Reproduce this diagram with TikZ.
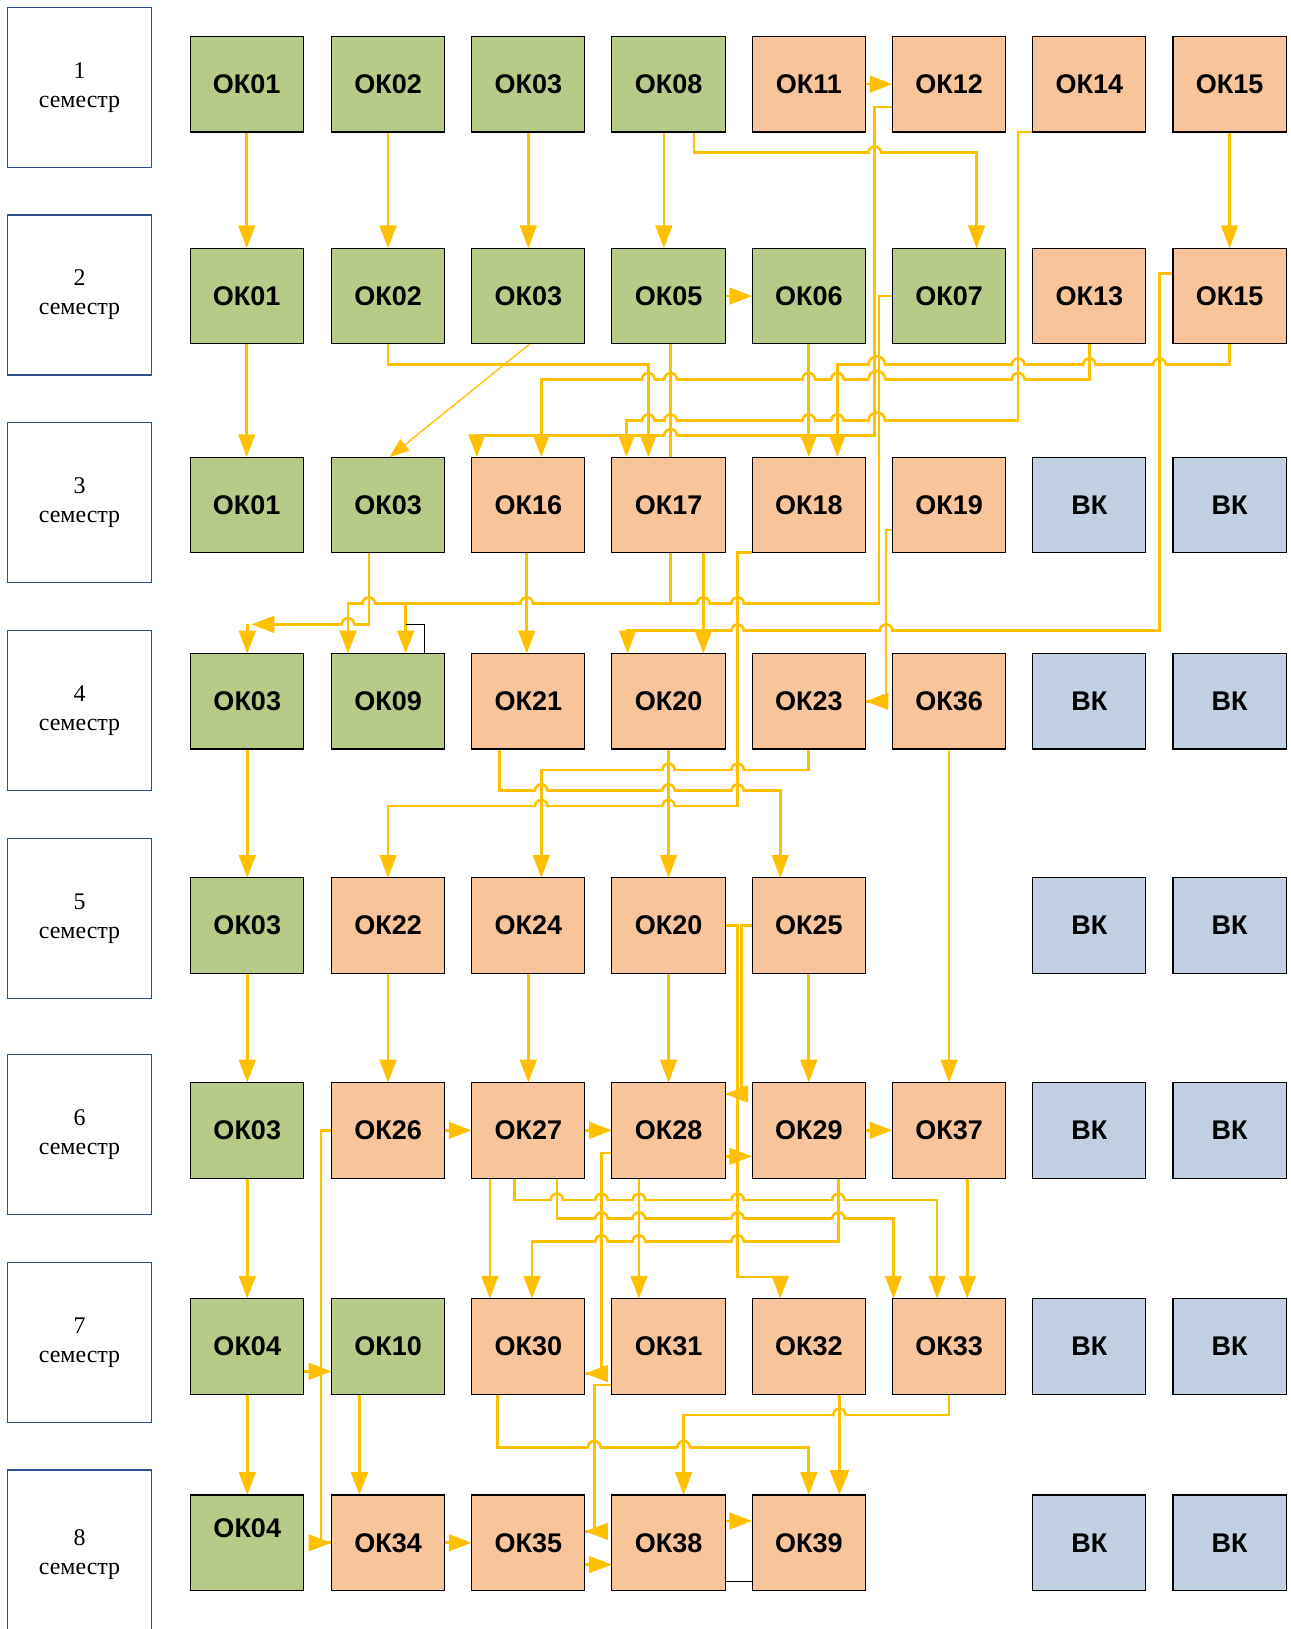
\documentclass[tikz,border=0pt]{standalone}
\usepackage{fontspec}
\setmainfont{Liberation Serif}
\newfontfamily\boxfont{Liberation Sans}
\usetikzlibrary{arrows.meta}
\pgfdeclarelayer{bg}
\pgfsetlayers{bg,main}
\definecolor{gfill}{RGB}{183,203,136}
\definecolor{ofill}{RGB}{248,197,155}
\definecolor{bfill}{RGB}{194,208,227}
\definecolor{conncol}{RGB}{255,192,0}
\definecolor{semcol}{RGB}{47,82,143}
\newcommand{\cfnt}{\boxfont\bfseries\fontsize{26}{30}\selectfont}
\tikzset{
 course/.style={draw=black, line width=1.1pt, minimum width=109pt, minimum height=92pt, inner sep=0pt, outer sep=0pt, font=\cfnt},
 gbox/.style={course, fill=gfill},
 obox/.style={course, fill=ofill},
 bbox/.style={course, fill=bfill},
 sem/.style={draw=semcol, line width=1.2pt, minimum width=139pt, minimum height=154pt, inner sep=0pt, align=center, font=\fontsize{23}{28}\selectfont},
 cline/.style={draw=conncol, line width=2.5pt},
 conn/.style={cline, -{Triangle[length=22pt,width=16pt]}},
 thinblk/.style={draw=black, line width=1pt},
}
\newcommand{\myhop}[3]{%
 \fill[white] ({#1-#3-0.8},{#2-2.2}) rectangle ({#1+#3+0.8},{#2+2.2});
 \draw[cline] ({#1-#3-1},#2) -- ({#1-#3},#2) arc[start angle=180,end angle=0,radius=#3pt] -- ({#1+#3+1},#2);}
\newcommand{\myvre}[2]{\draw[cline] (#1,{#2-9}) -- (#1,{#2+9});}
\newcommand{\hv}[2]{\myhop{#1}{#2}{6}\myvre{#1}{#2}}
\begin{document}
\begin{tikzpicture}[x=1pt,y=-1pt]
\useasboundingbox (0,0) rectangle (1242,1568);
% semesters
\node[sem] (s1) at (76.5,84) {1\\семестр};
\node[sem] (s2) at (76.5,284) {2\\семестр};
\node[sem] (s3) at (76.5,484) {3\\семестр};
\node[sem] (s4) at (76.5,684) {4\\семестр};
\node[sem] (s5) at (76.5,884) {5\\семестр};
\node[sem] (s6) at (76.5,1092) {6\\семестр};
\node[sem] (s7) at (76.5,1292) {7\\семестр};
\node[sem, minimum height=162pt] (s8) at (76.5,1496) {8\\семестр};
% row 1
\node[gbox] (n11) at (237.5,81) {ОК01};
\node[gbox] (n12) at (373.5,81) {ОК02};
\node[gbox] (n13) at (508.5,81) {ОК03};
\node[gbox] (n14) at (643.5,81) {ОК08};
\node[obox] (n15) at (778.5,81) {ОК11};
\node[obox] (n16) at (913.5,81) {ОК12};
\node[obox] (n17) at (1048.5,81) {ОК14};
\node[obox] (n18) at (1183.5,81) {ОК15};
% row 2
\node[gbox] (n21) at (237.5,285) {ОК01};
\node[gbox] (n22) at (373.5,285) {ОК02};
\node[gbox] (n23) at (508.5,285) {ОК03};
\node[gbox] (n24) at (643.5,285) {ОК05};
\node[gbox] (n25) at (778.5,285) {ОК06};
\node[gbox] (n26) at (913.5,285) {ОК07};
\node[obox] (n27) at (1048.5,285) {ОК13};
\node[obox] (n28) at (1183.5,285) {ОК15};
% row 3
\node[gbox] (n31) at (237.5,486) {ОК01};
\node[gbox] (n32) at (373.5,486) {ОК03};
\node[obox] (n33) at (508.5,486) {ОК16};
\node[obox] (n34) at (643.5,486) {ОК17};
\node[obox] (n35) at (778.5,486) {ОК18};
\node[obox] (n36) at (913.5,486) {ОК19};
\node[bbox] (n37) at (1048.5,486) {ВК};
\node[bbox] (n38) at (1183.5,486) {ВК};
% row 4
\node[gbox] (n41) at (238,675) {ОК03};
\node[gbox] (n42) at (373.5,675) {ОК09};
\node[obox] (n43) at (508.5,675) {ОК21};
\node[obox] (n44) at (643.5,675) {ОК20};
\node[obox] (n45) at (778.5,675) {ОК23};
\node[obox] (n46) at (913.5,675) {ОК36};
\node[bbox] (n47) at (1048.5,675) {ВК};
\node[bbox] (n48) at (1183.5,675) {ВК};
% row 5
\node[gbox] (n51) at (238,891) {ОК03};
\node[obox] (n52) at (373.5,891) {ОК22};
\node[obox] (n53) at (508.5,891) {ОК24};
\node[obox] (n54) at (643.5,891) {ОК20};
\node[obox] (n55) at (778.5,891) {ОК25};
\node[bbox] (n57) at (1048.5,891) {ВК};
\node[bbox] (n58) at (1183.5,891) {ВК};
% row 6
\node[gbox] (n61) at (238,1088) {ОК03};
\node[obox] (n62) at (373.5,1088) {ОК26};
\node[obox] (n63) at (508.5,1088) {ОК27};
\node[obox] (n64) at (643.5,1088) {ОК28};
\node[obox] (n65) at (778.5,1088) {ОК29};
\node[obox] (n66) at (913.5,1088) {ОК37};
\node[bbox] (n67) at (1048.5,1088) {ВК};
\node[bbox] (n68) at (1183.5,1088) {ВК};
% row 7
\node[gbox] (n71) at (238,1296) {ОК04};
\node[gbox] (n72) at (373.5,1296) {ОК10};
\node[obox] (n73) at (508.5,1296) {ОК30};
\node[obox] (n74) at (643.5,1296) {ОК31};
\node[obox] (n75) at (778.5,1296) {ОК32};
\node[obox] (n76) at (913.5,1296) {ОК33};
\node[bbox] (n77) at (1048.5,1296) {ВК};
\node[bbox] (n78) at (1183.5,1296) {ВК};
% row 8
\node[gbox, label={[font=\cfnt, yshift=14pt]center:ОК04}] (n81) at (238,1485) {};
\node[obox] (n82) at (373.5,1485) {ОК34};
\node[obox] (n83) at (508.5,1485) {ОК35};
\node[obox] (n84) at (643.5,1485) {ОК38};
\node[obox] (n85) at (778.5,1485) {ОК39};
\node[bbox] (n87) at (1048.5,1485) {ВК};
\node[bbox] (n88) at (1183.5,1485) {ВК};

\coordinate (b1) at (390.5,581);
\coordinate (b2) at (390.5,601);
\coordinate (j1) at (238,601);

\begin{pgfonlayer}{bg}
\fill[white] (0,0) rectangle (1242,1568);
% row 1 -> 2
\draw[conn] (n11.south) -- (n21.north);
\draw[conn] (n12.south) -- (n22.north);
\draw[conn] (n13.south) -- (n23.north);
\draw[conn] ([xshift=-4.5pt]n14.south) -- ([xshift=-4.5pt]n24.north);
\draw[conn] ([xshift=24.5pt]n14.south) |- (940,147) -- ([xshift=26.5pt]n26.north);
\draw[conn] (n15.east) -- (n16.west);
\draw[conn] ([yshift=-22pt]n16.west) -| (842,419) -| ([xshift=-49.5pt]n33.north);
\draw[conn] (n17.south west) -| (980,405) -| ([xshift=-40.5pt]n34.north);
\draw[conn] (n18.south) -- (n28.north);
% row 2 -> 3
\draw[conn] (n21.south) -- (n31.north);
\draw[conn] (n24.east) -- (n25.west);
\draw[conn] (n22.south) |- (624,351) -- ([xshift=-19.5pt]n34.north);
\draw[draw=conncol, line width=1.3pt, -{Triangle[length=19pt,width=14pt]}] ([xshift=1.5pt]n23.south) -- ([xshift=1.5pt]n32.north);
\draw[cline] ([xshift=2pt]n24.south) -- (645.5,581);
\draw[conn] (n27.south) |- (521,365) -- ([xshift=12.5pt]n33.north);
\draw[conn] (n28.south) |- (806,351) -- ([xshift=27.5pt]n35.north);
\draw[conn] (n25.south) -- (n35.north);
\draw[conn] (n26.west) -| (846,581) -| ([xshift=-38.5pt]n42.north);
\draw[conn] (b1) -- ([xshift=17pt]n42.north);
\draw[conn] ([yshift=22pt]n28.west) -| (1116,607) -| ([xshift=-39.5pt]n44.north);
% row 3 -> 4
\draw[conn] ([xshift=33.5pt]n34.south) -- ([xshift=33.5pt]n44.north);
\draw[conn] ([xshift=-1.5pt]n33.south) -- ([xshift=-1.5pt]n43.north);
\draw[conn] ([xshift=-18.5pt]n32.south) |- (242,601);
\draw[conn] (j1) -- (n41.north);
\draw[conn] (n35.south west) -| (710,776) -| (n52.north);
\draw[cline] ([yshift=-24pt]n36.west) -| (853,675) -- (n45.east);
\draw[conn] ([xshift=20pt]n45.east) -- (n45.east);
\draw[conn] (n46.south) -- (n66.north);
% row 4 -> 5
\draw[conn] (n41.south) -- (n51.north);
\draw[conn] (n44.south) -- (n54.north);
\draw[conn] ([xshift=-27.5pt]n43.south) |- (751,761) -- ([xshift=-27.5pt]n55.north);
\draw[conn] (n45.south) |- (521,741) -- ([xshift=12.5pt]n53.north);
% row 5 -> 6
\draw[conn] (n51.south) -- (n61.north);
\draw[conn] (n52.south) -- (n62.north);
\draw[conn] (n53.south) -- (n63.north);
\draw[conn] (n54.south) -- (n64.north);
\draw[conn] (n55.south) -- (n65.north);
\draw[conn] (n54.east) -| (710,1229) -| ([xshift=-27.5pt]n75.north);
\draw[cline] (n55.west) -| (714,1053) -- ([yshift=35pt]n64.east);
\draw[conn] ([shift={(22pt,35pt)}]n64.east) -- ([yshift=35pt]n64.east);
\draw[conn] ([yshift=-25pt]n64.east) -- ([yshift=-25pt]n65.west);
% row 6
\draw[conn] (n62.east) -- (n63.west);
\draw[conn] (n63.east) -- (n64.west);
\draw[conn] (n65.east) -- (n66.west);
\draw[cline] (n62.west) -| (309,1485) -- (n82.west);
\draw[conn] ([xshift=-22pt]n82.west) -- (n82.west);
% row 6 -> 7
\draw[conn] (n61.south) -- (n71.north);
\draw[conn] ([xshift=-37pt]n63.south) -- ([xshift=-37pt]n73.north);
\draw[conn] ([xshift=-13.5pt]n63.south) |- (902,1155) -- ([xshift=-11.5pt]n76.north);
\draw[conn] ([xshift=27.5pt]n63.south) |- (860,1173) -- ([xshift=-53.5pt]n76.north);
\draw[conn] ([xshift=28.5pt]n65.south) |- (512,1195) -- ([xshift=3.5pt]n73.north);
\draw[cline] ([yshift=-22pt]n64.west) -| (579,1322) -- ([yshift=-26pt]n73.east);
\draw[conn] ([shift={(22pt,-26pt)}]n73.east) -- ([yshift=-26pt]n73.east);
\draw[conn] ([xshift=-28.5pt]n64.south) -- ([xshift=-28.5pt]n74.north);
\draw[conn] ([xshift=17.5pt]n66.south) -- ([xshift=17.5pt]n76.north);
% row 7 -> 8
\draw[conn] ([yshift=-24pt]n71.east) -- ([yshift=-24pt]n72.west);
\draw[conn] (n71.south) -- (n81.north);
\draw[conn] ([xshift=-27.5pt]n72.south) -- ([xshift=-27.5pt]n82.north);
\draw[conn] ([xshift=-29.5pt]n73.south) |- (778.5,1393) -- (n85.north);
\draw[conn] (n76.south) |- (658,1362) -- ([xshift=14.5pt]n84.north);
\draw[draw=conncol, line width=3.6pt, -{Triangle[length=24pt,width=18pt]}] ([xshift=29.5pt]n75.south) -- ([xshift=29.5pt]n85.north);
\draw[cline] ([yshift=-37pt]n74.west) -| (572,1474) -- ([yshift=11pt]n83.east);
\draw[conn] ([shift={(22pt,11pt)}]n83.east) -- ([yshift=11pt]n83.east);
% row 8
\draw[conn] (n82.east) -- (n83.west);
\draw[conn] ([yshift=-21pt]n83.east) -- ([yshift=-21pt]n84.west);
\draw[conn] ([yshift=21pt]n84.east) -- ([yshift=21pt]n85.west);
% stray black lines
\draw[thinblk] (b2) -| ([xshift=35.5pt]n42.north);
\draw[thinblk] ([yshift=-37pt]n84.east) -- ([yshift=-37pt]n85.west);
% line jumps
\hv{842}{147}
\myhop{844}{351}{8}\myvre{842}{351}\myvre{846}{351}
\hv{980}{351}\hv{1048.5}{351}\hv{1116}{351}
\hv{624}{365}\hv{645.5}{365}\hv{778.5}{365}\hv{806}{365}\hv{980}{365}
\myhop{844}{365}{8}\myvre{842}{365}\myvre{846}{365}
\hv{624}{405}\hv{645.5}{405}\hv{778.5}{405}\hv{806}{405}
\myhop{844}{405}{8}\myvre{842}{405}\myvre{846}{405}
\hv{645.5}{419}
\hv{710}{581}\hv{677}{581}\hv{507}{581}\hv{355}{581}
\hv{335}{601}
\hv{853}{607}\hv{710}{607}
\hv{710}{741}\hv{643.5}{741}
\hv{521}{761}\hv{643.5}{761}\hv{710}{761}
\hv{643.5}{776}\hv{521}{776}
\hv{536}{1155}\hv{579}{1155}\hv{615}{1155}\hv{710}{1155}\hv{807}{1155}
\hv{579}{1173}\hv{615}{1173}\hv{710}{1173}\hv{807}{1173}
\hv{579}{1195}\hv{615}{1195}\hv{710}{1195}
\myhop{808}{1362}{6}\draw[draw=conncol, line width=3.6pt] (808,1353) -- (808,1371);
\hv{572}{1393}\hv{658}{1393}
\end{pgfonlayer}
\end{tikzpicture}
\end{document}
